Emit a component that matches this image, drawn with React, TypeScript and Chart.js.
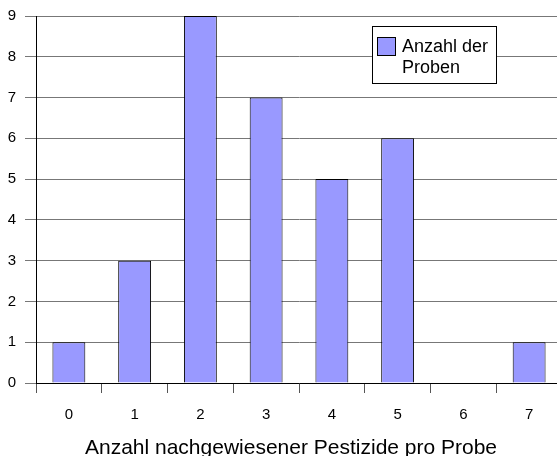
import React, { useEffect, useRef } from "react";
import { Chart, registerables } from "chart.js";

Chart.register(...registerables);

const categories = ["0", "1", "2", "3", "4", "5", "6", "7"];
const sampleCounts = [1, 3, 9, 7, 5, 6, 0, 1];
const seriesLabel = "Anzahl der Proben";
const legendLines = ["Anzahl der", "Proben"];
const xTitle = "Anzahl nachgewiesener Pestizide pro Probe";
const yMin = 0;
const yMax = 9;
const yStep = 1;

const FONT = "'Liberation Sans', Arial, Helvetica, sans-serif";
const BAR_COLOR = "#9999FF";

const legendBoxPlugin = {
  id: "legendBox",
  afterDraw(chart: any) {
    const ctx = chart.ctx;
    ctx.save();
    ctx.fillStyle = "#ffffff";
    ctx.fillRect(372.5, 26.5, 124, 57);
    ctx.strokeStyle = "#000000";
    ctx.lineWidth = 1;
    ctx.strokeRect(372.5, 26.5, 124, 57);
    ctx.fillStyle = BAR_COLOR;
    ctx.fillRect(377.5, 37.5, 18, 18);
    ctx.strokeRect(377.5, 37.5, 18, 18);
    ctx.fillStyle = "#000000";
    ctx.font = `18px ${FONT}`;
    ctx.textBaseline = "alphabetic";
    ctx.textAlign = "left";
    ctx.fillText(legendLines[0], 402, 52);
    ctx.fillText(legendLines[1], 402, 73);
    ctx.restore();
  },
};

export default function App() {
  const canvasRef = useRef<HTMLCanvasElement | null>(null);

  useEffect(() => {
    if (!canvasRef.current) return;
    const chart = new Chart(canvasRef.current, {
      type: "bar",
      data: {
        labels: categories,
        datasets: [
          {
            label: seriesLabel,
            data: sampleCounts,
            backgroundColor: BAR_COLOR,
            borderColor: "#000000",
            borderWidth: 1,
            barPercentage: 0.5,
            categoryPercentage: 1,
            yAxisID: "y",
          },
        ],
      },
      options: {
        animation: false,
        responsive: false,
        devicePixelRatio: 1,
        layout: { padding: { left: 0, right: 0, top: 16, bottom: 0 } },
        plugins: {
          legend: { display: false },
          tooltip: { enabled: false },
          title: {
            display: true,
            position: "bottom",
            text: xTitle,
            color: "#000000",
            font: { family: FONT, size: 21, weight: "normal", lineHeight: 1 },
            padding: { top: 0, bottom: 11.5 },
          },
        },
        scales: {
          x: {
            type: "category",
            offset: true,
            afterFit(scale: any) {
              scale.height = 54.5;
            },
            grid: {
              display: true,
              offset: true,
              drawOnChartArea: false,
              drawTicks: true,
              tickLength: 10,
              color: "#555555",
            },
            border: { display: true, color: "#000000", width: 1 },
            ticks: {
              color: "#000000",
              font: { family: FONT, size: 15 },
              padding: 13,
              maxRotation: 0,
            },
          },
          y: {
            type: "linear",
            position: "left",
            min: yMin,
            max: yMax,
            afterFit(scale: any) {
              scale.width = 36;
              scale.paddingTop = 0;
              scale.paddingBottom = 0;
            },
            grid: {
              display: true,
              color: "#777777",
              drawTicks: true,
              tickLength: 11,
            },
            border: { display: true, color: "#000000", width: 1 },
            ticks: {
              stepSize: yStep,
              color: "#000000",
              font: { family: FONT, size: 15 },
              padding: 9,
            },
          },
          yRight: {
            type: "linear",
            position: "right",
            display: true,
            afterFit(scale: any) {
              scale.width = 20;
              scale.paddingTop = 0;
              scale.paddingBottom = 0;
            },
            grid: { display: false, drawOnChartArea: false },
            border: { display: false },
            ticks: { display: false },
          },
        },
      },
      plugins: [legendBoxPlugin],
    } as any);
    return () => chart.destroy();
  }, []);

  return (
    <div
      style={{
        position: "fixed",
        left: 0,
        top: 0,
        width: 557,
        height: 456,
        overflow: "hidden",
        background: "#ffffff",
      }}
    >
      <canvas ref={canvasRef} width={582} height={470} style={{ display: "block" }} />
    </div>
  );
}
